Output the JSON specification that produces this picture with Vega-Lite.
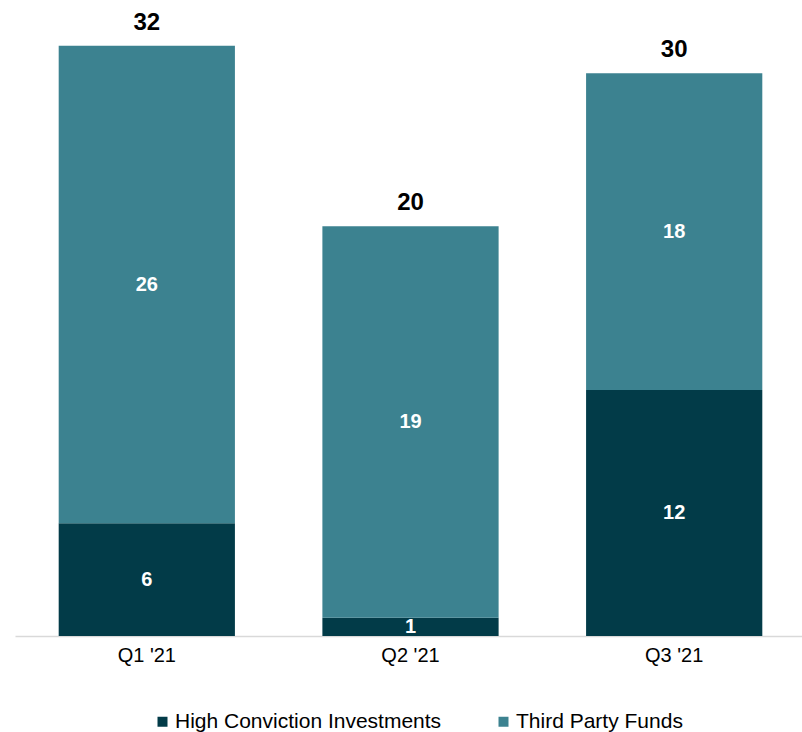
{
  "$schema": "https://vega.github.io/schema/vega-lite/v6.json",
  "width": 791,
  "height": 636,
  "autosize": {"type": "none"},
  "padding": {"left": 15, "top": 0, "right": 0, "bottom": 96},
  "config": {"view": {"stroke": null}, "font": "Liberation Sans"},
  "data": {
    "values": [
      {"quarter": "Q1 '21", "series": "High Conviction Investments", "value": 6.11, "label": "6", "total_label": "32"},
      {"quarter": "Q1 '21", "series": "Third Party Funds", "value": 25.89, "label": "26", "total_label": "32"},
      {"quarter": "Q2 '21", "series": "High Conviction Investments", "value": 0.99, "label": "1", "total_label": "20"},
      {"quarter": "Q2 '21", "series": "Third Party Funds", "value": 21.23, "label": "19", "total_label": "20"},
      {"quarter": "Q3 '21", "series": "High Conviction Investments", "value": 13.34, "label": "12", "total_label": "30"},
      {"quarter": "Q3 '21", "series": "Third Party Funds", "value": 17.17, "label": "18", "total_label": "30"}
    ]
  },
  "encoding": {
    "x": {
      "field": "quarter",
      "type": "nominal",
      "sort": null,
      "scale": {"paddingInner": 0.3317, "paddingOuter": 0.1657},
      "axis": {
        "title": null,
        "labelAngle": 0,
        "ticks": false,
        "domainColor": "#d9d9d9",
        "domainWidth": 1.5,
        "labelFontSize": 20,
        "labelColor": "#000000",
        "labelPadding": 9,
        "labelFont": "Liberation Sans"
      }
    }
  },
  "layer": [
    {
      "mark": {"type": "bar"},
      "encoding": {
        "y": {
          "field": "value",
          "type": "quantitative",
          "stack": "zero",
          "scale": {"domain": [0, 34.48], "nice": false, "zero": true},
          "axis": null
        },
        "order": {"field": "series", "type": "nominal", "sort": "ascending"},
        "color": {
          "field": "series",
          "type": "nominal",
          "scale": {
            "domain": ["High Conviction Investments", "Third Party Funds"],
            "range": ["#023b48", "#3c8290"]
          },
          "legend": {
            "title": null,
            "orient": "none",
            "direction": "horizontal",
            "legendX": 137,
            "legendY": 711,
            "symbolType": "square",
            "symbolSize": 100,
            "symbolStrokeWidth": 0,
            "labelFontSize": 21,
            "labelLimit": 500,
            "labelColor": "#000000",
            "labelFont": "Liberation Sans",
            "labelOffset": 2,
            "columnPadding": 51
          }
        }
      }
    },
    {
      "transform": [
        {"stack": "value", "groupby": ["quarter"], "sort": [{"field": "series", "order": "ascending"}], "as": ["y0", "y1"]},
        {"fold": ["y0", "y1"], "as": ["edge", "pos"]}
      ],
      "mark": {"type": "text", "color": "#ffffff", "fontWeight": "bold", "fontSize": 20, "baseline": "middle", "font": "Liberation Sans"},
      "encoding": {
        "y": {"aggregate": "mean", "field": "pos", "type": "quantitative", "axis": null},
        "text": {"field": "label", "type": "nominal"},
        "detail": {"field": "series", "type": "nominal"}
      }
    },
    {
      "mark": {"type": "text", "color": "#000000", "fontWeight": "bold", "fontSize": 24, "baseline": "alphabetic", "dy": -16, "font": "Liberation Sans"},
      "encoding": {
        "y": {"aggregate": "sum", "field": "value", "type": "quantitative", "axis": null},
        "text": {"field": "total_label", "type": "nominal"}
      }
    }
  ]
}
